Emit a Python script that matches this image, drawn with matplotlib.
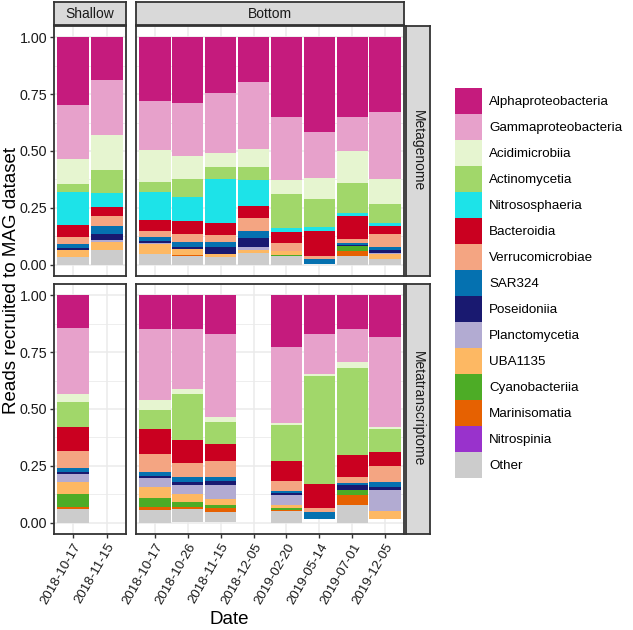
import matplotlib
matplotlib.use("Agg")
import matplotlib.pyplot as plt

plt.rcParams["font.family"] = ["Liberation Sans", "DejaVu Sans"]

taxa = ["Alphaproteobacteria", "Gammaproteobacteria", "Acidimicrobiia", "Actinomycetia",
        "Nitrososphaeria", "Bacteroidia", "Verrucomicrobiae", "SAR324", "Poseidoniia",
        "Planctomycetia", "UBA1135", "Cyanobacteriia", "Marinisomatia", "Nitrospinia", "Other"]

colors = ["#C51B7D", "#E7A1CB", "#E6F5D0", "#A1D76A", "#1DE3E8", "#CA0020", "#F4A582",
          "#0571B0", "#191970", "#B2ABD2", "#FDB863", "#4DAC26", "#E66101", "#9932CC", "#CCCCCC"]

shallow_dates = ["2018-10-17", "2018-11-15"]
bottom_dates = ["2018-10-17", "2018-10-26", "2018-11-15", "2018-12-05",
                "2019-02-20", "2019-05-14", "2019-07-01", "2019-12-05"]

# one row per date, values in taxa order; None = no sample
metagenome_shallow = [
    [0.297, 0.237, 0.112, 0.036, 0.143, 0.055, 0.028, 0.019, 0.010, 0.000, 0.031, 0.000, 0.000, 0.0, 0.032],
    [0.189, 0.240, 0.153, 0.102, 0.061, 0.039, 0.048, 0.032, 0.026, 0.012, 0.032, 0.000, 0.000, 0.0, 0.066],
]
metagenome_bottom = [
    [0.279, 0.218, 0.138, 0.044, 0.124, 0.051, 0.026, 0.015, 0.010, 0.004, 0.044, 0.000, 0.000, 0.0, 0.047],
    [0.287, 0.233, 0.102, 0.080, 0.105, 0.060, 0.035, 0.022, 0.009, 0.000, 0.025, 0.000, 0.004, 0.0, 0.039],
    [0.246, 0.262, 0.063, 0.051, 0.197, 0.051, 0.032, 0.022, 0.029, 0.000, 0.012, 0.000, 0.000, 0.0, 0.036],
    [0.197, 0.294, 0.080, 0.058, 0.112, 0.055, 0.058, 0.029, 0.041, 0.010, 0.015, 0.000, 0.000, 0.0, 0.051],
    [0.352, 0.274, 0.061, 0.153, 0.015, 0.051, 0.036, 0.000, 0.000, 0.000, 0.017, 0.002, 0.003, 0.0, 0.036],
    [0.418, 0.199, 0.092, 0.127, 0.015, 0.109, 0.015, 0.023, 0.000, 0.000, 0.000, 0.000, 0.000, 0.0, 0.000],
    [0.352, 0.148, 0.140, 0.131, 0.015, 0.102, 0.015, 0.010, 0.007, 0.000, 0.000, 0.022, 0.019, 0.0, 0.039],
    [0.328, 0.294, 0.112, 0.082, 0.015, 0.035, 0.055, 0.015, 0.012, 0.006, 0.023, 0.000, 0.000, 0.0, 0.025],
]
metatranscriptome_shallow = [
    [0.142, 0.290, 0.039, 0.106, 0.000, 0.109, 0.075, 0.016, 0.010, 0.033, 0.054, 0.058, 0.007, 0.0, 0.061],
    None,
]
metatranscriptome_bottom = [
    [0.149, 0.312, 0.043, 0.083, 0.000, 0.109, 0.080, 0.019, 0.010, 0.038, 0.049, 0.038, 0.013, 0.0, 0.058],
    [0.146, 0.264, 0.022, 0.203, 0.000, 0.104, 0.062, 0.019, 0.014, 0.039, 0.036, 0.022, 0.007, 0.0, 0.061],
    [0.168, 0.368, 0.023, 0.094, 0.000, 0.075, 0.070, 0.017, 0.019, 0.061, 0.029, 0.012, 0.017, 0.0, 0.046],
    None,
    [0.226, 0.336, 0.007, 0.162, 0.000, 0.084, 0.044, 0.012, 0.007, 0.044, 0.015, 0.006, 0.007, 0.0, 0.050],
    [0.171, 0.177, 0.007, 0.474, 0.000, 0.107, 0.015, 0.034, 0.000, 0.000, 0.000, 0.000, 0.000, 0.0, 0.000],
    [0.149, 0.145, 0.025, 0.384, 0.000, 0.096, 0.025, 0.010, 0.024, 0.000, 0.000, 0.019, 0.044, 0.0, 0.079],
    [0.183, 0.394, 0.012, 0.101, 0.000, 0.061, 0.072, 0.022, 0.010, 0.093, 0.037, 0.000, 0.000, 0.0, 0.000],
]

W, H = 633, 630
EDGE = "#333333"
PAD = 0.07


def box(left, top, right, bottom):
    return [left / W, 1 - bottom / H, (right - left) / W, (bottom - top) / H]


def draw_panel(ax, dates, rows, show_x, show_y):
    n = len(dates)
    xs = [i for i in range(n) if rows[i] is not None]
    tops = [1.0 for i in xs]
    handles = []

    # stack from the top of each bar downwards, in legend order
    for t in range(len(taxa)):
        heights = [rows[i][t] for i in xs]
        bottoms = [tops[k] - heights[k] for k in range(len(xs))]
        bars = ax.bar(xs, heights, bottom=bottoms, width=0.96, color=colors[t],
                      linewidth=0, label=taxa[t])
        handles.append(bars)
        tops = bottoms

    ax.set_xlim(-0.5 - PAD, n - 0.5 + PAD)
    ax.set_ylim(-0.05, 1.05)
    ax.set_xticks(range(n))
    ax.set_yticks([0, 0.25, 0.5, 0.75, 1.0])
    ax.set_yticks([0.125, 0.375, 0.625, 0.875], minor=True)
    ax.grid(which="major", color="#EBEBEB", linewidth=1.1)
    ax.grid(which="minor", axis="y", color="#EBEBEB", linewidth=0.6)
    ax.set_axisbelow(True)
    ax.tick_params(which="minor", length=0)

    for spine in ax.spines.values():
        spine.set_color(EDGE)
        spine.set_linewidth(1.3)

    if show_x:
        ax.set_xticklabels(dates, rotation=60, ha="right", va="top",
                           rotation_mode="anchor", fontsize=9.6, color="#1A1A1A")
        ax.tick_params(axis="x", length=3, width=1, color=EDGE, pad=2)
    else:
        ax.set_xticklabels([])
        ax.tick_params(axis="x", length=0)

    if show_y:
        ax.set_yticklabels(["0.00", "0.25", "0.50", "0.75", "1.00"],
                           fontsize=10.3, color="#1A1A1A")
        ax.tick_params(axis="y", length=3, width=1, color=EDGE, pad=2)
    else:
        ax.set_yticklabels([])
        ax.tick_params(axis="y", length=0)

    return handles


def strip(rect, label, rotation=0):
    ax = fig.add_axes(rect)
    ax.set_facecolor("#D9D9D9")
    ax.set_xticks([])
    ax.set_yticks([])
    for spine in ax.spines.values():
        spine.set_color(EDGE)
        spine.set_linewidth(1.3)
    ax.text(0.5, 0.5, label, rotation=rotation, ha="center", va="center",
            fontsize=10, color="#1A1A1A", transform=ax.transAxes)


fig = plt.figure(figsize=(W / 100, H / 100), dpi=100)

ax1 = fig.add_axes(box(54, 26, 126, 276))
ax2 = fig.add_axes(box(136, 26, 404, 276))
ax3 = fig.add_axes(box(54, 284, 126, 534))
ax4 = fig.add_axes(box(136, 284, 404, 534))

draw_panel(ax1, shallow_dates, metagenome_shallow, False, True)
handles = draw_panel(ax2, bottom_dates, metagenome_bottom, False, False)
draw_panel(ax3, shallow_dates, metatranscriptome_shallow, True, True)
draw_panel(ax4, bottom_dates, metatranscriptome_bottom, True, False)

strip(box(54, 2, 126, 25), "Shallow")
strip(box(136, 2, 404, 25), "Bottom")
strip(box(406, 26, 430, 276), "Metagenome", rotation=-90)
strip(box(406, 284, 430, 534), "Metatranscriptome", rotation=-90)

fig.text(12 / W, 1 - 280 / H, "Reads recruited to MAG dataset", rotation=90,
         ha="center", va="center", fontsize=13.5)
fig.text(229 / W, 1 - 620 / H, "Date", ha="center", va="center", fontsize=13.5)

fig.legend(handles=handles, labels=taxa, loc="upper left",
           bbox_to_anchor=(455 / W, 1 - 88 / H), frameon=False, fontsize=9.6,
           handlelength=2.02, handleheight=2.62, labelspacing=0,
           handletextpad=0.55, borderpad=0, borderaxespad=0)

fig.savefig("out.png", dpi=100)
